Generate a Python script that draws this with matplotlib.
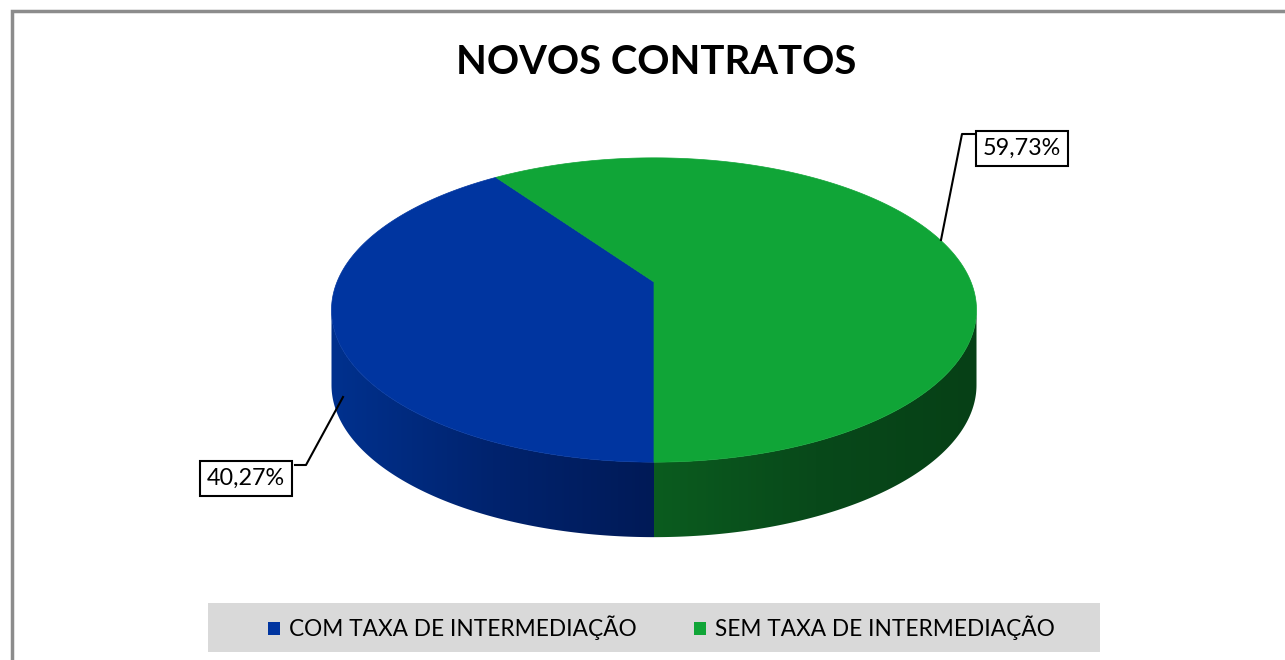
import numpy as np
import matplotlib
matplotlib.use('Agg')
import matplotlib.pyplot as plt
from matplotlib.patches import Polygon, Rectangle
from matplotlib.colors import LinearSegmentedColormap

# data
categories = ['COM TAXA DE INTERMEDIAÇÃO', 'SEM TAXA DE INTERMEDIAÇÃO']
shares = [40.27, 59.73]
labels = ['40,27%', '59,73%']
top_colors = ['#0035A0', '#10A537']
side_colors = [['#00318E', '#00236E', '#001A57'],
               ['#0B5C1F', '#08491A', '#064016']]

plt.rcParams['font.family'] = ['Lato', 'DejaVu Sans']

W, H = 1285, 660
fig = plt.figure(figsize=(W / 100, H / 100), dpi=100)
ax = fig.add_axes([0, 0, 1, 1])
ax.set_xlim(0, W)
ax.set_ylim(H, 0)
ax.axis('off')

# outer chart border
ax.plot([12, 12, W + 5], [H + 5, 11, 11], color='#8c8c8c', lw=2.5,
        solid_joinstyle='miter')

# pie geometry (pixels), with a little perspective (k)
cx, cy, A, B, k, depth = 654, 282, 317, 147, 0.184, 75


def edge(theta_deg, dy=0.0):
    t = np.radians(theta_deg)
    u, v = np.sin(t), np.cos(t)
    d = 1 + k * v
    return cx + A * u / d, cy - B * v / d + dy


start = 180.0
bounds = []
for s in shares:
    span = s / sum(shares) * 360
    bounds.append((start, start + span))
    start += span

# side walls: visible front part between the silhouette tangent points
t_right = np.degrees(np.arccos(-k))
t_left = 360 - t_right
for (a0, a1), cols in zip(bounds, side_colors):
    segs = []
    for off in (0, 360):
        lo, hi = max(a0, t_right + off), min(a1, t_left + off)
        if lo < hi:
            segs.append((lo, hi))
    for lo, hi in segs:
        th = np.linspace(lo, hi, 160)
        xt, yt = edge(th)
        xb, yb = edge(th[::-1], depth)
        poly = Polygon(np.column_stack([np.r_[xt, xb], np.r_[yt, yb]]),
                       closed=True, facecolor='none', edgecolor='none')
        ax.add_patch(poly)
        x0, x1 = min(xt.min(), xb.min()), max(xt.max(), xb.max())
        cmap = LinearSegmentedColormap.from_list('side', cols)
        grad = np.linspace(0, 1, 256).reshape(1, -1)
        img = ax.imshow(grad, cmap=cmap,
                        extent=[x0, x1, yb.max() + 2, yt.min() - 2],
                        aspect='auto', zorder=2)
        img.set_clip_path(poly)

# top faces
for (a0, a1), col in zip(bounds, top_colors):
    th = np.linspace(a0, a1, 200)
    xs, ys = edge(th)
    pts = np.column_stack([np.r_[cx, xs], np.r_[cy, ys]])
    ax.add_patch(Polygon(pts, closed=True, facecolor=col, edgecolor=col,
                         lw=0.5, zorder=3))

# title
ax.text(656, 62, 'NOVOS CONTRATOS', ha='center', va='center',
        fontsize=28.8, fontweight='bold', color='black')

# data labels with leader lines
box = dict(boxstyle='square,pad=0.3', facecolor='white', edgecolor='black',
           lw=1.5)
ax.plot([295, 306, 343], [465, 465, 397], color='black', lw=1.5, zorder=4)
ax.text(246, 478, labels[0], ha='center', va='center', fontsize=16.8,
        bbox=box, zorder=5)
ax.plot([974, 962, 941], [134, 134, 240], color='black', lw=1.5, zorder=4)
ax.text(1022, 148, labels[1], ha='center', va='center', fontsize=16.8,
        bbox=box, zorder=5)

# legend
ax.add_patch(Rectangle((208, 603), 892, 49, facecolor='#D9D9D9',
                       edgecolor='none', zorder=1))
leg_x = [268, 694]
for x, cat, col in zip(leg_x, categories, top_colors):
    ax.add_patch(Rectangle((x, 622), 12, 13, facecolor=col, edgecolor='none',
                           zorder=2))
    ax.text(x + 21, 628, cat, ha='left', va='center', fontsize=16.3,
            color='black', zorder=2)

fig.savefig('out.png', dpi=100, facecolor='white')
